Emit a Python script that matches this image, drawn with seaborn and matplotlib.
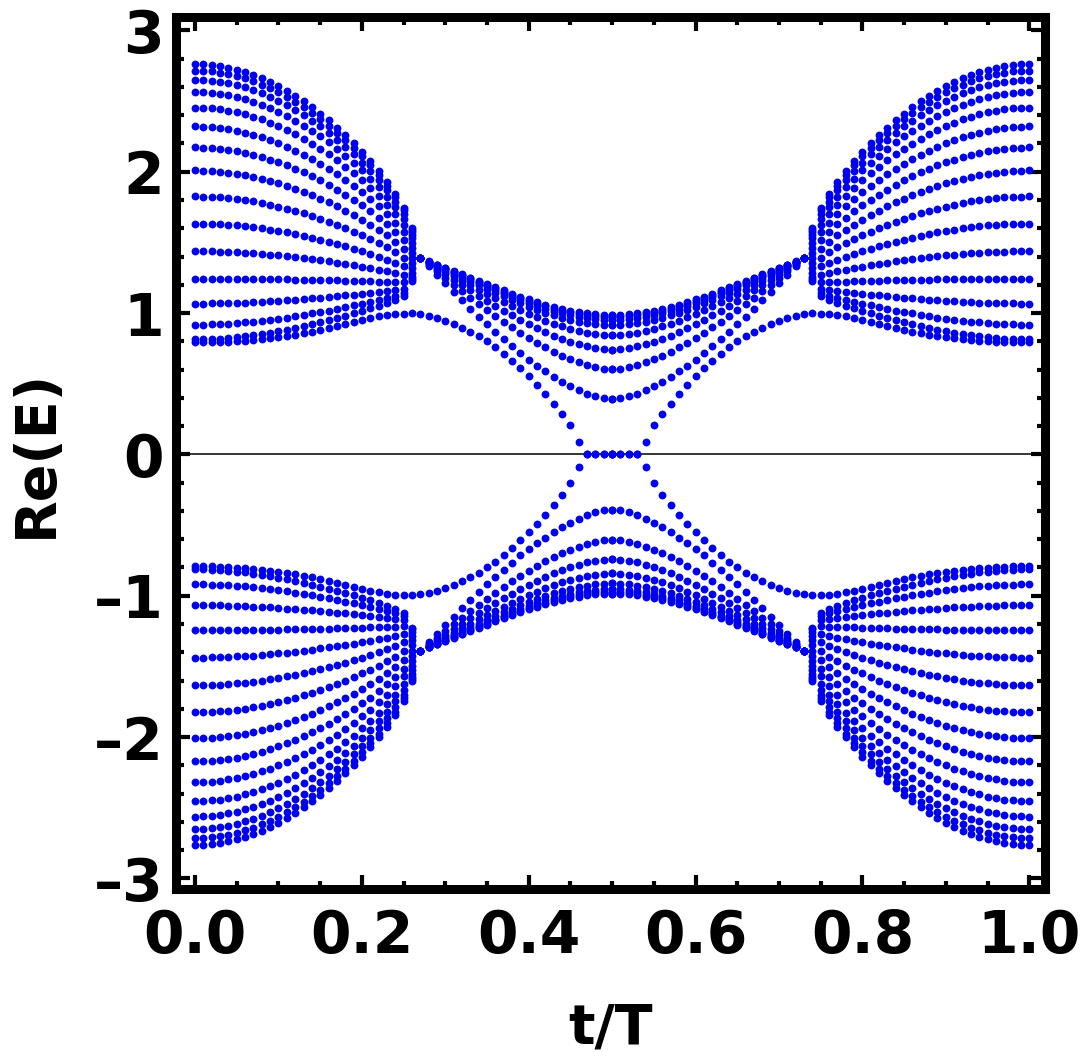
import pandas as pd
import matplotlib
matplotlib.use("Agg")
import matplotlib.pyplot as plt
import seaborn as sns
from matplotlib.ticker import MultipleLocator

# t/T samples, first part of the cycle (before the jump at t/T ~ 0.26)
t_a = [0.00, 0.01, 0.02, 0.03, 0.04, 0.05, 0.06, 0.07, 0.08, 0.09, 0.10, 0.11, 0.12, 0.13,
       0.14, 0.15, 0.16, 0.17, 0.18, 0.19, 0.20, 0.21, 0.22, 0.23, 0.24, 0.25, 0.26]

# upper Re(E) levels for t_a (top band first, edge state last)
band_a0 = [2.763, 2.761, 2.756, 2.748, 2.737, 2.723, 2.706, 2.686, 2.661, 2.635, 2.605, 2.572, 2.536, 2.497, 2.455, 2.411, 2.363, 2.312, 2.257, 2.200, 2.138, 2.073, 2.002, 1.926, 1.841, 1.745, 1.602]
band_a1 = [2.716, 2.714, 2.710, 2.701, 2.691, 2.677, 2.660, 2.640, 2.617, 2.591, 2.562, 2.530, 2.495, 2.457, 2.416, 2.373, 2.326, 2.276, 2.224, 2.168, 2.108, 2.045, 1.976, 1.902, 1.819, 1.726, 1.590]
band_a2 = [2.650, 2.649, 2.644, 2.636, 2.626, 2.612, 2.597, 2.577, 2.555, 2.530, 2.502, 2.471, 2.437, 2.400, 2.361, 2.320, 2.275, 2.227, 2.176, 2.122, 2.065, 2.004, 1.938, 1.868, 1.788, 1.699, 1.574]
band_a3 = [2.563, 2.561, 2.557, 2.550, 2.540, 2.527, 2.512, 2.494, 2.472, 2.449, 2.422, 2.393, 2.361, 2.326, 2.289, 2.250, 2.207, 2.162, 2.114, 2.063, 2.009, 1.951, 1.889, 1.823, 1.748, 1.665, 1.554]
band_a4 = [2.454, 2.453, 2.448, 2.442, 2.432, 2.421, 2.406, 2.390, 2.370, 2.347, 2.323, 2.295, 2.266, 2.233, 2.199, 2.162, 2.123, 2.081, 2.036, 1.989, 1.939, 1.886, 1.828, 1.767, 1.699, 1.622, 1.528]
band_a5 = [2.320, 2.319, 2.315, 2.309, 2.300, 2.290, 2.277, 2.261, 2.243, 2.223, 2.201, 2.176, 2.149, 2.120, 2.089, 2.055, 2.020, 1.982, 1.942, 1.899, 1.854, 1.806, 1.755, 1.700, 1.639, 1.571, 1.497]
band_a6 = [2.172, 2.171, 2.168, 2.162, 2.155, 2.145, 2.134, 2.120, 2.104, 2.086, 2.066, 2.045, 2.021, 1.995, 1.967, 1.938, 1.907, 1.873, 1.838, 1.801, 1.762, 1.720, 1.675, 1.627, 1.574, 1.515, 1.463]
band_a7 = [2.009, 2.008, 2.005, 2.000, 1.994, 1.986, 1.976, 1.965, 1.951, 1.936, 1.919, 1.900, 1.880, 1.858, 1.835, 1.810, 1.783, 1.755, 1.725, 1.694, 1.661, 1.626, 1.588, 1.549, 1.505, 1.456, 1.428]
band_a8 = [1.825, 1.824, 1.822, 1.818, 1.813, 1.807, 1.799, 1.790, 1.779, 1.767, 1.753, 1.738, 1.722, 1.705, 1.686, 1.667, 1.646, 1.624, 1.601, 1.576, 1.550, 1.523, 1.494, 1.464, 1.430, 1.393, 1.390]
band_a9 = [1.633, 1.632, 1.631, 1.628, 1.624, 1.620, 1.614, 1.607, 1.600, 1.591, 1.581, 1.571, 1.559, 1.547, 1.534, 1.520, 1.505, 1.490, 1.473, 1.456, 1.438, 1.419, 1.399, 1.378, 1.355, 1.330, 1.352]
band_a10 = [1.437, 1.437, 1.436, 1.434, 1.432, 1.429, 1.426, 1.423, 1.418, 1.413, 1.408, 1.402, 1.395, 1.389, 1.381, 1.373, 1.365, 1.356, 1.348, 1.338, 1.329, 1.318, 1.307, 1.296, 1.284, 1.271, 1.316]
band_a11 = [1.244, 1.244, 1.244, 1.244, 1.243, 1.243, 1.242, 1.242, 1.241, 1.240, 1.239, 1.238, 1.237, 1.236, 1.235, 1.233, 1.232, 1.231, 1.229, 1.228, 1.226, 1.224, 1.223, 1.221, 1.219, 1.217, 1.283]
band_a12 = [1.067, 1.067, 1.068, 1.069, 1.070, 1.072, 1.074, 1.077, 1.080, 1.083, 1.087, 1.091, 1.095, 1.099, 1.104, 1.109, 1.114, 1.119, 1.125, 1.131, 1.137, 1.143, 1.150, 1.157, 1.165, 1.173, 1.257]
band_a13 = [0.919, 0.919, 0.921, 0.923, 0.926, 0.930, 0.934, 0.939, 0.946, 0.953, 0.960, 0.968, 0.978, 0.987, 0.997, 1.007, 1.018, 1.030, 1.042, 1.054, 1.067, 1.080, 1.094, 1.109, 1.124, 1.141, 1.238]
band_a14 = [0.813, 0.814, 0.816, 0.819, 0.823, 0.829, 0.835, 0.843, 0.851, 0.861, 0.871, 0.882, 0.894, 0.907, 0.921, 0.935, 0.950, 0.966, 0.982, 0.998, 1.015, 1.033, 1.052, 1.072, 1.095, 1.120, 1.225]
edge_a = [0.792, 0.792, 0.793, 0.795, 0.798, 0.801, 0.805, 0.810, 0.816, 0.823, 0.830, 0.838, 0.847, 0.857, 0.868, 0.880, 0.893, 0.907, 0.921, 0.936, 0.951, 0.965, 0.977, 0.987, 0.993, 0.996, 0.997]

# second part, up to the middle of the cycle
t_b = [0.27, 0.28, 0.29, 0.30, 0.31, 0.32, 0.33, 0.34, 0.35, 0.36, 0.37, 0.38,
       0.39, 0.40, 0.41, 0.42, 0.43, 0.44, 0.45, 0.46, 0.47, 0.48, 0.49, 0.50]

band_b0 = [1.390, 1.365, 1.343, 1.320, 1.297, 1.273, 1.250, 1.227, 1.205, 1.182, 1.160, 1.138, 1.117, 1.097, 1.078, 1.060, 1.044, 1.030, 1.017, 1.006, 0.997, 0.990, 0.986, 0.985]
band_b1 = [1.390, 1.364, 1.341, 1.317, 1.293, 1.268, 1.245, 1.221, 1.198, 1.174, 1.151, 1.129, 1.107, 1.086, 1.067, 1.048, 1.032, 1.017, 1.004, 0.992, 0.983, 0.976, 0.971, 0.970]
band_b2 = [1.390, 1.363, 1.339, 1.314, 1.288, 1.262, 1.237, 1.212, 1.188, 1.163, 1.140, 1.116, 1.093, 1.072, 1.051, 1.032, 1.015, 1.000, 0.985, 0.973, 0.964, 0.956, 0.951, 0.950]
band_b3 = [1.390, 1.361, 1.334, 1.307, 1.279, 1.251, 1.223, 1.197, 1.171, 1.144, 1.118, 1.093, 1.068, 1.045, 1.024, 1.003, 0.984, 0.968, 0.952, 0.939, 0.928, 0.920, 0.915, 0.913]
band_b4 = [1.390, 1.357, 1.325, 1.293, 1.262, 1.229, 1.197, 1.166, 1.136, 1.106, 1.077, 1.048, 1.020, 0.994, 0.970, 0.946, 0.925, 0.906, 0.888, 0.873, 0.860, 0.850, 0.844, 0.842]
band_b5 = [1.390, 1.351, 1.313, 1.275, 1.237, 1.198, 1.160, 1.123, 1.088, 1.052, 1.018, 0.985, 0.952, 0.922, 0.893, 0.866, 0.841, 0.818, 0.798, 0.780, 0.764, 0.752, 0.744, 0.741]
band_b6 = [1.390, 1.342, 1.296, 1.249, 1.202, 1.155, 1.109, 1.065, 1.022, 0.978, 0.938, 0.898, 0.859, 0.822, 0.789, 0.757, 0.726, 0.699, 0.674, 0.652, 0.632, 0.617, 0.607, 0.603]
band_b7 = [1.390, 1.330, 1.270, 1.210, 1.150, 1.090, 1.030, 0.975, 0.920, 0.865, 0.815, 0.765, 0.715, 0.670, 0.628, 0.588, 0.550, 0.515, 0.483, 0.455, 0.430, 0.410, 0.396, 0.391]
edge_b = [0.990, 0.980, 0.966, 0.945, 0.922, 0.895, 0.867, 0.836, 0.800, 0.758, 0.713, 0.663, 0.609, 0.552, 0.492, 0.429, 0.360, 0.288, 0.205, 0.087, 0.0, 0.0, 0.0, 0.0]

bands_a = [band_a0, band_a1, band_a2, band_a3, band_a4, band_a5, band_a6, band_a7,
           band_a8, band_a9, band_a10, band_a11, band_a12, band_a13, band_a14, edge_a]
bands_b = [band_b0, band_b1, band_b2, band_b3, band_b4, band_b5, band_b6, band_b7, edge_b]

rows = []
for band in bands_a:
    rows += list(zip(t_a, band))
for band in bands_b:
    rows += list(zip(t_b, band))
df = pd.DataFrame(rows, columns=["t", "E"])

# the spectrum is symmetric under t -> T - t and E -> -E
df = pd.concat([df, df.assign(t=1 - df["t"])])
df = pd.concat([df, df.assign(E=-df["E"])], ignore_index=True)

sns.set_style("ticks")
plt.rcParams["font.family"] = ["DejaVu Sans"]
plt.rcParams["font.weight"] = "bold"
plt.rcParams["text.color"] = "black"
plt.rcParams["axes.labelcolor"] = "black"
plt.rcParams["xtick.color"] = "black"
plt.rcParams["ytick.color"] = "black"

fig = plt.figure(figsize=(10.84, 10.59), dpi=100)
ax = fig.add_axes([0.1624, 0.1605, 0.8017, 0.8235])

ax.axhline(0, color="black", lw=1.1, zorder=1)
sns.scatterplot(data=df, x="t", y="E", color="#0000f0", s=32, linewidth=0, ax=ax, zorder=2)

ax.set_xlim(-0.0228, 1.019)
ax.set_ylim(-3.075, 3.095)
ax.xaxis.set_major_locator(MultipleLocator(0.2))
ax.xaxis.set_minor_locator(MultipleLocator(0.05))
ax.yaxis.set_major_locator(MultipleLocator(1))
ax.yaxis.set_minor_locator(MultipleLocator(0.2))
ax.xaxis.set_major_formatter(plt.FuncFormatter(lambda v, p: f"{v:.1f}"))
ax.yaxis.set_major_formatter(plt.FuncFormatter(lambda v, p: f"{v:.0f}".replace("-", "\u2013")))

for side in ax.spines.values():
    side.set_linewidth(6.5)
    side.set_color("black")
ax.tick_params(which="both", direction="in", top=True, right=True, width=3,
               color="black", labelcolor="black")
ax.tick_params(which="major", length=10, labelsize=42)
ax.tick_params(which="minor", length=6)
ax.tick_params(axis="x", which="major", pad=14)
ax.tick_params(axis="y", which="major", pad=9)

ax.set_xlabel("t/T", fontsize=40, fontweight="bold", labelpad=26, color="black")
ax.set_ylabel("Re(E)", fontsize=40, fontweight="bold", labelpad=22, color="black")

fig.savefig("out.png", dpi=100)
